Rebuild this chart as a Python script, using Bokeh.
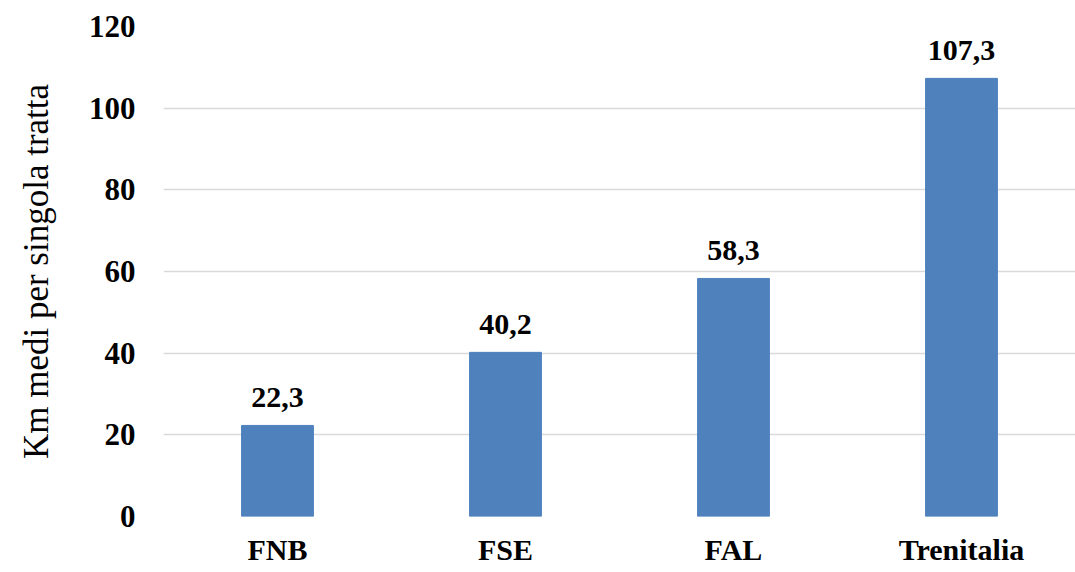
from bokeh.plotting import figure
from bokeh.models import ColumnDataSource, LabelSet
from bokeh.embed import file_html
from bokeh.resources import INLINE

categories = ["FNB", "FSE", "FAL", "Trenitalia"]
values = [22.3, 40.2, 58.3, 107.3]
labels = [f"{v:.1f}".replace(".", ",") for v in values]
y_ticks = [0, 20, 40, 60, 80, 100, 120]

FONT = "Liberation Serif"

src = ColumnDataSource(dict(cat=categories, val=values, lab=labels))

p = figure(x_range=categories, y_range=(0, 120),
           frame_width=912, frame_height=490,
           output_backend="svg", toolbar_location=None,
           min_border_left=163, min_border_right=0, min_border_top=26,
           min_border_bottom=40, outline_line_color=None)

p.vbar(x="cat", top="val", width=0.315, source=src,
       fill_color="#4F81BD", line_color="#4F81BD")

p.add_layout(LabelSet(x="cat", y="val", text="lab", source=src,
                      text_align="center", text_baseline="alphabetic",
                      y_offset=18, text_font=FONT, text_font_style="bold",
                      text_font_size="30px", text_color="#000000"))

p.yaxis.ticker = y_ticks
p.yaxis.axis_label = "Km medi per singola tratta"
p.yaxis.axis_label_text_font = FONT
p.yaxis.axis_label_text_font_style = "normal"
p.yaxis.axis_label_text_font_size = "35px"
p.yaxis.axis_label_text_color = "#000000"
p.yaxis.axis_label_standoff = 30
p.yaxis.major_label_text_font = FONT
p.yaxis.major_label_text_font_style = "bold"
p.yaxis.major_label_text_font_size = "31px"
p.yaxis.major_label_text_color = "#000000"
p.yaxis.major_label_standoff = 28

p.xaxis.major_label_text_font = FONT
p.xaxis.major_label_text_font_style = "bold"
p.xaxis.major_label_text_font_size = "30px"
p.xaxis.major_label_text_color = "#000000"
p.xaxis.major_label_standoff = 16

for ax in (p.xaxis, p.yaxis):
    ax.axis_line_color = None
    ax.major_tick_line_color = None
    ax.minor_tick_line_color = None
    ax.major_tick_in = 0
    ax.major_tick_out = 0

p.xgrid.grid_line_color = None
p.ygrid.grid_line_color = "#D9D9D9"
p.ygrid.grid_line_width = 1.5

p.x_range.range_padding = 0

open("out.html", "w").write(file_html(p, INLINE))
